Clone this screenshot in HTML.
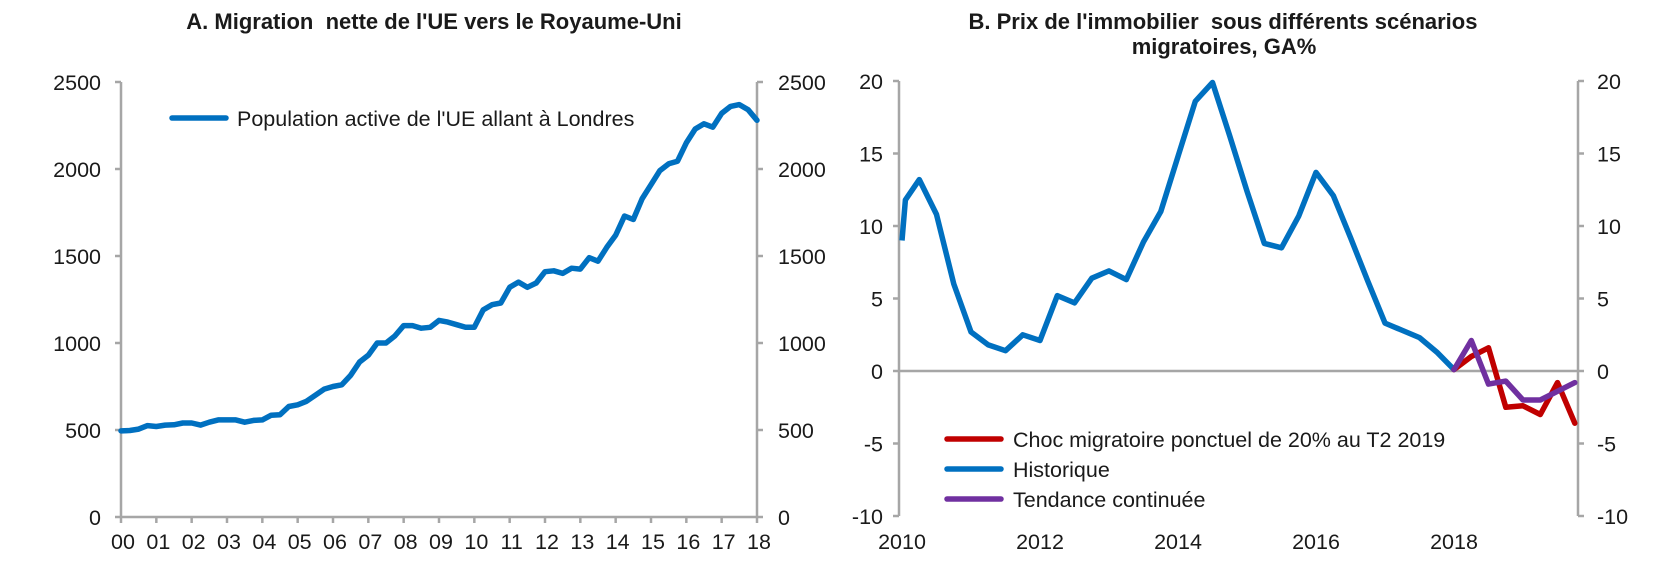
<!DOCTYPE html>
<html><head><meta charset="utf-8"><style>
body{margin:0;background:#fff;}
svg text{font-family:"Liberation Sans",Arial,sans-serif;fill:#1a1a1a;}
</style></head><body>
<svg id="s" width="1657" height="564" xmlns="http://www.w3.org/2000/svg">
<rect width="1657" height="564" fill="#fff"/>
<text x="434" y="29" font-size="22" font-weight="bold" text-anchor="middle" xml:space="preserve">A. Migration  nette de l'UE vers le Royaume-Uni</text>
<text x="1223" y="29" font-size="22" font-weight="bold" text-anchor="middle" xml:space="preserve">B. Prix de l'immobilier  sous différents scénarios</text>
<text x="1224" y="54" font-size="22" font-weight="bold" text-anchor="middle">migratoires, GA%</text>
<g id="g" stroke="#a6a6a6" stroke-width="2.5" fill="none"></g>
<g id="t" font-size="21.5"></g>
<g id="l" fill="none" stroke-width="5.5" stroke-linejoin="round" stroke-linecap="round"></g>
</svg>
<script>
const g=document.getElementById('g'),t=document.getElementById('t'),L=document.getElementById('l');
const NS='http://www.w3.org/2000/svg';
function el(p,tag,a,txt){const e=document.createElementNS(NS,tag);for(const k in a)e.setAttribute(k,a[k]);if(txt!==undefined)e.textContent=txt;p.appendChild(e);return e;}
// Chart A
const ax0=121,ax1=757,ay0=517,ay1=82;
const AX=x=>ax0+(ax1-ax0)*x/18, AY=v=>ay0-(ay0-ay1)*v/2500;
el(g,'line',{x1:ax0,y1:ay1,x2:ax0,y2:ay0});
el(g,'line',{x1:ax1,y1:ay1,x2:ax1,y2:ay0});
el(g,'line',{x1:ax0,y1:ay0,x2:ax1,y2:ay0});
for(let v=0;v<=2500;v+=500){const y=AY(v);
el(g,'line',{x1:ax0-6,y1:y,x2:ax0,y2:y});el(g,'line',{x1:ax1,y1:y,x2:ax1+6,y2:y});
el(t,'text',{x:101,y:y+8,'text-anchor':'end'},v);el(t,'text',{x:778,y:y+8},v);}
for(let i=0;i<=18;i++){const x=AX(i);el(g,'line',{x1:x,y1:ay0,x2:x,y2:ay0+6});
el(t,'text',{x:x+2,y:549,'text-anchor':'middle'},String(i).padStart(2,'0'));}
const A=[495,497,505,525,520,528,530,540,540,528,545,558,558,558,545,555,558,585,588,635,645,665,700,735,750,760,815,890,930,1000,1000,1040,1100,1100,1085,1090,1130,1120,1105,1090,1090,1190,1220,1230,1320,1350,1320,1345,1410,1415,1400,1430,1425,1490,1470,1550,1620,1730,1710,1830,1910,1990,2030,2045,2150,2230,2260,2240,2320,2360,2370,2340,2280];
el(L,'polyline',{stroke:'#0070c0',points:A.map((v,i)=>AX(i/4).toFixed(1)+','+AY(v).toFixed(1)).join(' ')});
el(L,'line',{x1:172,y1:118,x2:226,y2:118,stroke:'#0070c0'});
el(t,'text',{x:237,y:126},"Population active de l'UE allant à Londres");
// Chart B
const bx0=899,bx1=1578,by20=81,by10=516;
const BX=x=>902+(x-2010)*69, BY=v=>by20+(20-v)*(by10-by20)/30;
el(g,'line',{x1:bx0,y1:by20,x2:bx0,y2:by10});
el(g,'line',{x1:bx1,y1:by20,x2:bx1,y2:by10});
el(g,'line',{x1:bx0,y1:BY(0),x2:bx1,y2:BY(0)});
for(let v=-10;v<=20;v+=5){const y=BY(v);
el(g,'line',{x1:bx0-6,y1:y,x2:bx0,y2:y});el(g,'line',{x1:bx1,y1:y,x2:bx1+6,y2:y});
el(t,'text',{x:883,y:y+8,'text-anchor':'end'},v);el(t,'text',{x:1597,y:y+8},v);}
for(let yr=2010;yr<=2018;yr+=2)el(t,'text',{x:BX(yr),y:549,'text-anchor':'middle'},yr);
const H=[[2010,9],[2010.05,11.8],[2010.25,13.2],[2010.5,10.8],[2010.75,6],[2011,2.7],[2011.25,1.8],[2011.5,1.4],[2011.75,2.5],[2012,2.1],[2012.25,5.2],[2012.5,4.7],[2012.75,6.4],[2013,6.9],[2013.25,6.3],[2013.5,8.9],[2013.75,11],[2014,14.8],[2014.25,18.6],[2014.5,19.9],[2014.75,16.2],[2015,12.4],[2015.25,8.8],[2015.5,8.5],[2015.75,10.7],[2016,13.7],[2016.25,12.1],[2016.5,9.2],[2016.75,6.2],[2017,3.3],[2017.25,2.8],[2017.5,2.3],[2017.75,1.3],[2018,0.1]];
const R=[[2018,0.1],[2018.25,1],[2018.5,1.6],[2018.75,-2.5],[2019,-2.4],[2019.25,-3],[2019.5,-0.8],[2019.75,-3.6]];
const P=[[2018,0.1],[2018.25,2.1],[2018.5,-0.9],[2018.75,-0.7],[2019,-2],[2019.25,-2],[2019.5,-1.4],[2019.75,-0.8]];
const pts=a=>a.map(p=>Math.max(bx0,BX(p[0])).toFixed(1)+','+BY(p[1]).toFixed(1)).join(' ');
el(L,'polyline',{stroke:'#0070c0',points:pts(H),'stroke-linecap':'butt'});
el(L,'polyline',{stroke:'#c00000',points:pts(R)});
el(L,'polyline',{stroke:'#7030a0',points:pts(P)});
const lg=[['#c00000','Choc migratoire ponctuel de 20% au T2 2019',439],['#0070c0','Historique',469],['#7030a0','Tendance continuée',499]];
lg.forEach(([c,s,y])=>{el(L,'line',{x1:947,y1:y,x2:1001,y2:y,stroke:c});el(t,'text',{x:1013,y:y+8},s);});
</script>
</body></html>
